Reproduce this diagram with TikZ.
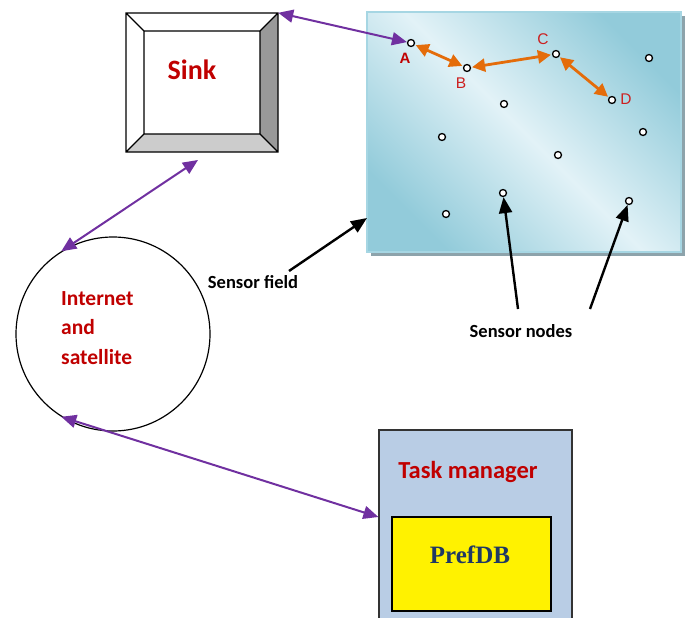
\documentclass[tikz,border=0pt]{standalone}
\usepackage{fontspec}
\setmainfont{Carlito}
\newfontfamily\arialfont{Liberation Sans}
\newfontfamily\dbfont{Liberation Serif}
\usetikzlibrary{arrows.meta}

\definecolor{labelred}{HTML}{C00000}
\definecolor{letterred}{HTML}{CC1F1F}
\definecolor{linkpurple}{HTML}{7030A0}
\definecolor{hoporange}{HTML}{E46C0A}
\definecolor{taskblue}{HTML}{B9CDE5}
\definecolor{dbnavy}{HTML}{1F3864}
\definecolor{fielddark}{HTML}{92CBDA}
\definecolor{fieldlight}{HTML}{E2F2F7}
\definecolor{fieldedge}{HTML}{A6D6E3}
\definecolor{fieldshadow}{HTML}{8DA3AB}

\begin{document}
\begin{tikzpicture}[x=1pt,y=-1pt,
  sensor/.style={circle, draw=black, fill=white, line width=1.3pt, inner sep=0pt, minimum size=7pt},
  letter/.style={font=\arialfont\fontsize{15.5}{15.5}\selectfont, text=letterred, inner sep=0pt},
  purplelink/.style={draw=linkpurple, line width=2pt,
    {Triangle[length=15pt,width=13pt]}-{Triangle[length=15pt,width=13pt]}},
  hoplink/.style={draw=hoporange, line width=2.8pt,
    {Triangle[length=13pt,width=13pt]}-{Triangle[length=13pt,width=13pt]},
    shorten <=1pt, shorten >=1pt},
  pointer/.style={draw=black, line width=2.4pt, -{Triangle[length=16pt,width=13pt]}},
  caption/.style={font=\bfseries\fontsize{18.5}{18.5}\selectfont, text=black},
]
\useasboundingbox (0,0) rectangle (688,618);

% ---- sink: bevelled box ----
\node[minimum width=152pt, minimum height=139pt, inner sep=0pt] (sink) at (202,82.5) {};
\coordinate (o1) at (126,13);  \coordinate (o2) at (278,13);
\coordinate (o3) at (278,152); \coordinate (o4) at (126,152);
\coordinate (i1) at (144,31);  \coordinate (i2) at (260,31);
\coordinate (i3) at (260,134); \coordinate (i4) at (144,134);
\fill[white] (o1) -- (o2) -- (i2) -- (i1) -- cycle;
\fill[white] (o1) -- (i1) -- (i4) -- (o4) -- cycle;
\fill[gray!80] (o2) -- (o3) -- (i3) -- (i2) -- cycle;
\fill[gray!40] (o4) -- (i4) -- (i3) -- (o3) -- cycle;
\draw[line width=1.3pt, line join=miter]
  (o1) rectangle (o3) (i1) rectangle (i3)
  (o1) -- (i1) (o2) -- (i2) (o3) -- (i3) (o4) -- (i4);
\node[font=\bfseries\fontsize{28}{28}\selectfont, text=labelred] (sinklabel) at (192,70) {Sink};

% ---- internet and satellite ----
\node[circle, draw=black, line width=1.2pt, minimum size=194pt, inner sep=0pt] (net) at (113,334) {};
\node[anchor=west, align=left, text=labelred, inner sep=0pt,
      font=\bfseries\fontsize{21.5}{29.5}\selectfont] (netlabel) at (61,328)
      {Internet\\and\\satellite};

% ---- sensor field ----
\fill[fieldshadow] (371,16) rectangle (685,256);
\node[shade, shading=axis, top color=fielddark, bottom color=fielddark, middle color=fieldlight,
      shading angle=-45, draw=fieldedge, line width=1.2pt,
      minimum width=314pt, minimum height=240pt, inner sep=0pt] (field) at (524,132) {};

\node[sensor] (A) at (411,43) {};
\node[sensor] (B) at (467,68) {};
\node[sensor] (C) at (556,54) {};
\node[sensor] (D) at (612,100) {};
\node[sensor] (s5) at (649,58) {};
\node[sensor] (s6) at (504,104) {};
\node[sensor] (s7) at (442,137) {};
\node[sensor] (s8) at (643,132) {};
\node[sensor] (s9) at (558,155) {};
\node[sensor] (s10) at (503,193) {};
\node[sensor] (s11) at (446,214) {};
\node[sensor] (s12) at (629,201) {};

\node[letter, font=\arialfont\bfseries\fontsize{15}{15}\selectfont, text=labelred] (la) at (405,58) {A};
\node[letter] (lb) at (461,83) {B};
\node[letter] (lc) at (543,39) {C};
\node[letter] (ld) at (626,99) {D};

\draw[hoplink] (A) -- (B);
\draw[hoplink] (B) -- (C);
\draw[hoplink] (C) -- (D);

% ---- task manager ----
\node[draw=black!80, line width=1.2pt, fill=taskblue, minimum width=193pt, minimum height=210pt,
      inner sep=0pt] (task) at (475.5,535) {};
\node[font=\bfseries\fontsize{24.5}{24.5}\selectfont, text=labelred] (tasklabel) at (468,472) {Task manager};
\node[draw=black, line width=1.4pt, fill=yellow, minimum width=159pt, minimum height=94pt,
      inner sep=0pt] (db) at (471.5,564) {};
\node[font=\dbfont\bfseries\fontsize{25}{25}\selectfont, text=dbnavy] (dblabel) at (470,555) {PrefDB};

% ---- links ----
\coordinate (sinkfoot) at (198,160);
\draw[purplelink] (sink.north east) -- (A);
\draw[purplelink] (sinkfoot) -- (net.122);
\draw[purplelink] (net.238) -- ([yshift=18pt]task.west);

% ---- captions and pointers ----
\node[caption] (sf) at (253,282) {Sensor field};
\node[caption] (sn) at (521,331) {Sensor nodes};
\coordinate (sfstart) at (289,271);
\coordinate (fieldedge) at (367,218);
\coordinate (snstart1) at (518,309);
\coordinate (snstart2) at (590,309);
\draw[pointer] (sfstart) -- (fieldedge);
\draw[pointer] (snstart1) -- (s10);
\draw[pointer] (snstart2) -- (s12);
\end{tikzpicture}
\end{document}
